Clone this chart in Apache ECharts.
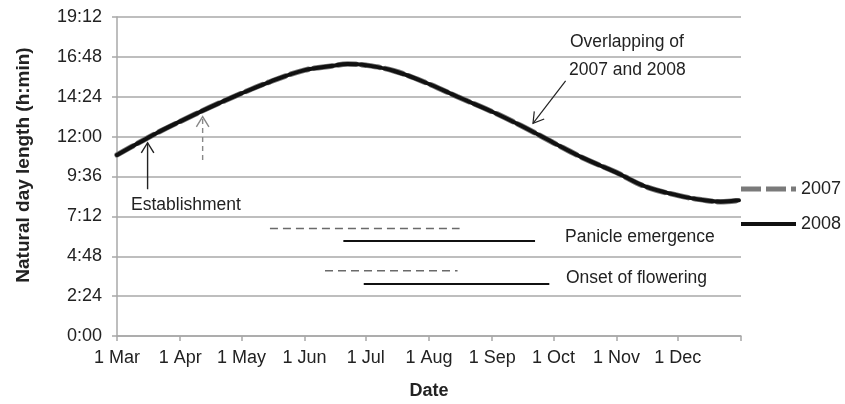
<!DOCTYPE html>
<html>
<head>
<meta charset="utf-8">
<script src="https://cdn.jsdelivr.net/npm/echarts@6/dist/echarts.min.js"></script>
<style>
  html, body { margin: 0; padding: 0; background: #fff; }
  #chart { width: 845px; height: 404px; }
</style>
</head>
<body>
<div id="chart"></div>
<script>
// Day length (h:mm) at sampled dates
const sampleDates = [
  '2008-03-01', '2008-03-11', '2008-03-21', '2008-04-01', '2008-04-15',
  '2008-05-01', '2008-05-15', '2008-06-01', '2008-06-15', '2008-06-22',
  '2008-07-01', '2008-07-15', '2008-08-01', '2008-08-15', '2008-09-01',
  '2008-09-15', '2008-10-01', '2008-10-15', '2008-11-01', '2008-11-15',
  '2008-12-01', '2008-12-15', '2008-12-22', '2008-12-31'
];
const dayLength2007 = [
  '10:54', '11:35', '12:15', '12:55', '13:44',
  '14:36', '15:18', '16:00', '16:16', '16:22',
  '16:18', '15:57', '15:10', '14:24', '13:30',
  '12:40', '11:38', '10:45', '9:50', '9:00',
  '8:28', '8:09', '8:05', '8:10'
];
const dayLength2008 = [
  '10:54', '11:35', '12:15', '12:55', '13:44',
  '14:36', '15:18', '16:00', '16:16', '16:22',
  '16:18', '15:57', '15:10', '14:24', '13:30',
  '12:40', '11:38', '10:45', '9:50', '9:00',
  '8:28', '8:09', '8:05', '8:10'
];

// Phenology periods: [start, end] and the level they are drawn at
const panicle2007 = ['2008-05-15', '2008-08-16'];
const panicle2008 = ['2008-06-20', '2008-09-22'];
const flowering2007 = ['2008-06-11', '2008-08-15'];
const flowering2008 = ['2008-06-30', '2008-09-29'];
const periodLevels = ['6:28', '5:43', '3:56', '3:08'];

// Establishment dates
const establish2008 = '2008-03-16';
const establish2007 = '2008-04-12';

// Axis tick labels
const monthLabels = ['Jan', 'Feb', 'Mar', 'Apr', 'May', 'Jun', 'Jul', 'Aug', 'Sep', 'Oct', 'Nov', 'Dec'];
const yTicks = ['0:00', '2:24', '4:48', '7:12', '9:36', '12:00', '14:24', '16:48', '19:12'];

function toMin(s) { const p = s.split(':'); return (+p[0]) * 60 + (+p[1]); }
function fmtMin(v) { const h = Math.floor(v / 60), m = Math.round(v - h * 60); return h + ':' + (m < 10 ? '0' : '') + m; }

// Daily categories from 1 Mar to 1 Jan
const days = [];
for (let t = Date.UTC(2008, 2, 1); t <= Date.UTC(2009, 0, 1); t += 86400000) {
  days.push(new Date(t).toISOString().slice(0, 10));
}

const yMin = toMin(yTicks[0]);
const yMax = toMin(yTicks[yTicks.length - 1]);
const yStep = toMin(yTicks[1]) - yMin;

const FONT = '"Liberation Sans", Arial, Helvetica, sans-serif';
const TEXT = '#222';
const GRID = '#a8a8a8';

function pairs(dates, vals) { return dates.map((d, i) => [d, toMin(vals[i])]); }
function period(range, level) { return range.map(d => [d, toMin(level)]); }

const chart = echarts.init(document.getElementById('chart'));

const option = {
  animation: false,
  backgroundColor: '#fff',
  grid: { left: 117, right: 104, top: 17, bottom: 68, outerBoundsMode: 'none', containLabel: false },
  legend: {
    data: [
      { name: '2007', icon: 'path://M0,0h20v5h-20z M25,0h20v5h-20z M50,0h5v5h-5z' },
      { name: '2008', icon: 'path://M0,0h55v4h-55z' }
    ],
    orient: 'vertical',
    left: 736,
    top: 175,
    itemWidth: 55,
    itemHeight: 5,
    itemGap: 17,
    textStyle: { fontFamily: FONT, fontSize: 18, color: TEXT }
  },
  xAxis: {
    type: 'category',
    data: days,
    boundaryGap: false,
    name: 'Date',
    nameLocation: 'middle',
    nameGap: 46,
    nameTextStyle: { fontFamily: FONT, fontSize: 18, fontWeight: 'bold', color: TEXT },
    axisLine: { lineStyle: { color: GRID, width: 1.5 } },
    axisTick: {
      interval: (i, v) => v.slice(8) === '01',
      length: 5,
      lineStyle: { color: GRID, width: 1.5 }
    },
    axisLabel: {
      interval: (i, v) => v.slice(8) === '01' && v.slice(5, 7) !== '01',
      formatter: v => (+v.slice(8)) + ' ' + monthLabels[+v.slice(5, 7) - 1],
      fontFamily: FONT, fontSize: 18, color: TEXT, margin: 13
    },
    splitLine: { show: false }
  },
  yAxis: {
    type: 'value',
    min: yMin,
    max: yMax,
    interval: yStep,
    name: 'Natural day length (h:min)',
    nameLocation: 'middle',
    nameGap: 84,
    nameTextStyle: { fontFamily: FONT, fontSize: 19, fontWeight: 'bold', color: TEXT, padding: [0, 0, 0, 23] },
    axisLine: { show: true, lineStyle: { color: GRID, width: 1.5 } },
    axisTick: { show: true, length: 5, lineStyle: { color: GRID, width: 1.5 } },
    axisLabel: { formatter: fmtMin, fontFamily: FONT, fontSize: 18, color: TEXT, margin: 15 },
    splitLine: { lineStyle: { color: GRID, width: 1.5 } }
  },
  series: [
    {
      name: '2007', type: 'line', smooth: 0.4, symbol: 'none',
      data: pairs(sampleDates, dayLength2007),
      lineStyle: { color: '#7a7a7a', width: 5.5, type: [18, 6], cap: 'round' },
      itemStyle: { color: '#7a7a7a' },
      z: 3
    },
    {
      name: '2008', type: 'line', smooth: 0.4, symbol: 'none',
      data: pairs(sampleDates, dayLength2008),
      lineStyle: { color: '#111', width: 4, cap: 'round' },
      itemStyle: { color: '#111' },
      z: 4
    },
    {
      name: 'panicle2007', type: 'line', symbol: 'none', silent: true,
      data: period(panicle2007, periodLevels[0]),
      lineStyle: { color: '#6a6a6a', width: 1.5, type: [8, 5] }
    },
    {
      name: 'panicle2008', type: 'line', symbol: 'none', silent: true,
      data: period(panicle2008, periodLevels[1]),
      lineStyle: { color: '#111', width: 2 }
    },
    {
      name: 'flowering2007', type: 'line', symbol: 'none', silent: true,
      data: period(flowering2007, periodLevels[2]),
      lineStyle: { color: '#6a6a6a', width: 1.5, type: [8, 5] }
    },
    {
      name: 'flowering2008', type: 'line', symbol: 'none', silent: true,
      data: period(flowering2008, periodLevels[3]),
      lineStyle: { color: '#111', width: 2 }
    }
  ]
};

chart.setOption(option);

// Arrow with an open head, from tail to tip (pixel points)
function arrow(tail, tip, color, width, dash) {
  const ang = Math.atan2(tail[1] - tip[1], tail[0] - tip[0]);
  const L = 12, spread = 0.55;
  const w1 = [tip[0] + L * Math.cos(ang + spread), tip[1] + L * Math.sin(ang + spread)];
  const w2 = [tip[0] + L * Math.cos(ang - spread), tip[1] + L * Math.sin(ang - spread)];
  return [
    { type: 'line', shape: { x1: tail[0], y1: tail[1], x2: tip[0], y2: tip[1] },
      style: { stroke: color, lineWidth: width, lineDash: dash || null }, z: 10 },
    { type: 'polyline', shape: { points: [w1, tip, w2] },
      style: { stroke: color, lineWidth: width, fill: null }, z: 10 }
  ];
}

function px(date, hm) { return chart.convertToPixel({ gridIndex: 0 }, [date, toMin(hm)]); }

function label(text, x, y) {
  return { type: 'text', x: x, y: y, z: 10,
    style: { text: text, fill: TEXT, font: '17.5px ' + FONT, verticalAlign: 'middle', align: 'left' } };
}

const graphics = []
  .concat(arrow(px(establish2008, '8:50'), px(establish2008, '11:38'), '#222', 1.4))
  .concat(arrow(px(establish2007, '10:36'), px(establish2007, '13:12'), '#888', 1.4, [5, 4]))
  .concat(arrow(px('2008-10-07', '15:21'), px('2008-09-21', '12:48'), '#222', 1.2))
  .concat([
    label('Establishment', 131, 205),
    label('Panicle emergence', 565, 237),
    label('Onset of flowering', 566, 278),
    label('Overlapping of', 570, 42),
    label('2007 and 2008', 569, 70)
  ]);

chart.setOption({ graphic: graphics });
</script>
</body>
</html>
